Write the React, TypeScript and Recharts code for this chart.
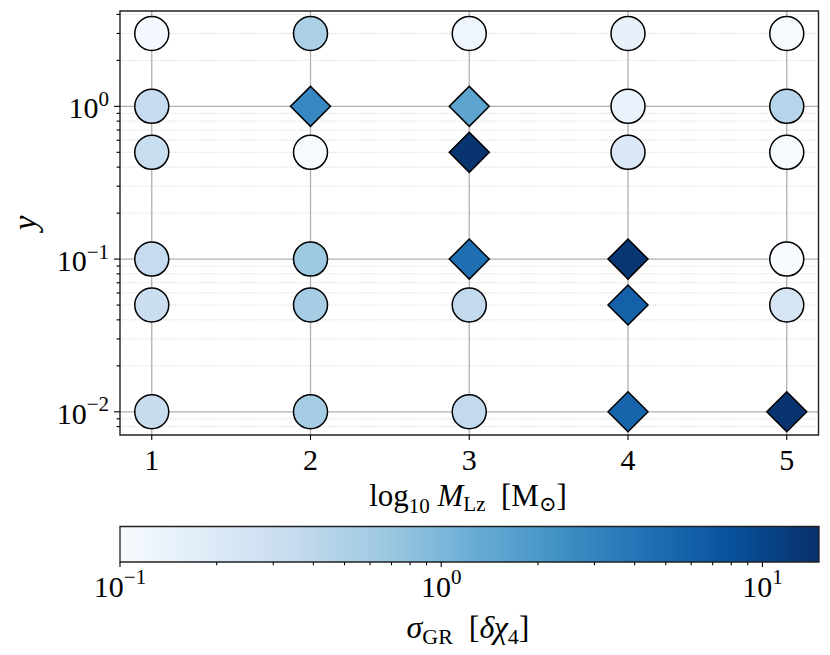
import { CartesianGrid, ReferenceArea, Scatter, ScatterChart, XAxis, YAxis } from "recharts";

// grid of runs: one column per log10 mass, one row per y level
const massTicks = [1, 2, 3, 4, 5];
const yLevels = [3, 1, 0.5, 0.1, 0.05, 0.01];

// sigma_GR, same order as yLevels
const sigmaAtM1 = [0.11, 0.35, 0.33, 0.35, 0.31, 0.34];
const sigmaAtM2 = [0.53, 2.8, 0.105, 0.65, 0.58, 0.6];
const sigmaAtM3 = [0.125, 1.52, 14, 4.5, 0.37, 0.37];
const sigmaAtM4 = [0.146, 0.14, 0.21, 13.5, 5.9, 5.5];
const sigmaAtM5 = [0.105, 0.44, 0.105, 0.1, 0.235, 14];

// marker kind: "o" circle, "D" diamond
const markerAtM1 = ["o", "o", "o", "o", "o", "o"];
const markerAtM2 = ["o", "D", "o", "o", "o", "o"];
const markerAtM3 = ["o", "D", "D", "D", "o", "o"];
const markerAtM4 = ["o", "o", "o", "D", "D", "D"];
const markerAtM5 = ["o", "o", "o", "o", "o", "D"];

const yMajorTicks = [0.01, 0.1, 1];
const yMinorTicks = [0.008, 0.009, 0.02, 0.03, 0.04, 0.05, 0.06, 0.07, 0.08, 0.09, 0.2, 0.3, 0.4, 0.5, 0.6, 0.7, 0.8, 0.9, 2, 3, 4];
const cbMajorTicks = [0.1, 1, 10];
const cbMinorTicks = [0.2, 0.3, 0.4, 0.5, 0.6, 0.7, 0.8, 0.9, 2, 3, 4, 5, 6, 7, 8, 9];

const xDomain: [number, number] = [0.8, 5.2];
const yDomain: [number, number] = [0.00705, 4.21];
const cbMin = 0.1;
const cbMax = 15;

const sigmaColumns = [sigmaAtM1, sigmaAtM2, sigmaAtM3, sigmaAtM4, sigmaAtM5];
const markerColumns = [markerAtM1, markerAtM2, markerAtM3, markerAtM4, markerAtM5];

const points = massTicks.flatMap((m, i) =>
  yLevels.map((y, j) => ({ x: m, y, sigma: sigmaColumns[i][j], marker: markerColumns[i][j] }))
);

// the two ends of the colour bar, so its axes have something to scale
const colorbarEnds = [
  { x: cbMin, y: 0 },
  { x: cbMax, y: 1 }
];

const font = "'Liberation Serif', 'DejaVu Serif', serif";
const bluesStops = ["#f7fbff", "#deebf7", "#c6dbef", "#9ecae1", "#6baed6", "#4292c6", "#2171b5", "#08519c", "#08306b"];

function hexToRgb(h: string) {
  return [1, 3, 5].map((k) => parseInt(h.slice(k, k + 2), 16));
}

function bluesColor(v: number) {
  const lo = Math.log10(cbMin);
  const hi = Math.log10(cbMax);
  const t = Math.max(0, Math.min(1, (Math.log10(v) - lo) / (hi - lo)));
  const p = t * (bluesStops.length - 1);
  const i = Math.min(bluesStops.length - 2, Math.floor(p));
  const f = p - i;
  const a = hexToRgb(bluesStops[i]);
  const b = hexToRgb(bluesStops[i + 1]);
  const c = a.map((ai, k) => Math.round(ai + (b[k] - ai) * f));
  return `rgb(${c[0]},${c[1]},${c[2]})`;
}

function MarkerShape(props: any) {
  const { cx, cy, payload } = props;
  const fill = bluesColor(payload.sigma);
  if (payload.marker === "D") {
    const r = 20;
    return (
      <path
        d={`M${cx},${cy - r}L${cx + r},${cy}L${cx},${cy + r}L${cx - r},${cy}Z`}
        fill={fill}
        stroke="#000"
        strokeWidth={1.5}
      />
    );
  }
  return <circle cx={cx} cy={cy} r={17} fill={fill} stroke="#000" strokeWidth={1.5} />;
}

function NoMark() {
  return <g />;
}

function PowerLabel({ x, y, exp, anchor }: { x: number; y: number; exp: number; anchor: "start" | "middle" | "end" }) {
  return (
    <text x={x} y={y} textAnchor={anchor} fontFamily={font} fontSize={30} fill="#000">
      <tspan>10</tspan>
      <tspan dy={-12.5} fontSize={21}>
        {exp < 0 ? `\u2212${-exp}` : `${exp}`}
      </tspan>
    </text>
  );
}

function YTick(props: any) {
  const { x, y, payload } = props;
  const v = payload.value;
  const major = yMajorTicks.includes(v);
  return (
    <g>
      <line x1={x - (major ? 6 : 3.5)} x2={x} y1={y} y2={y} stroke="#000" strokeWidth={1.1} />
      {major && <PowerLabel x={x - 11} y={y + 12} exp={Math.round(Math.log10(v))} anchor="end" />}
    </g>
  );
}

function XTick(props: any) {
  const { x, y, payload } = props;
  return (
    <g>
      <line x1={x} x2={x} y1={y} y2={y + 5} stroke="#000" strokeWidth={1.1} />
      <text x={x} y={y + 35} textAnchor="middle" fontFamily={font} fontSize={30} fill="#000">
        {payload.value}
      </text>
    </g>
  );
}

function ColorbarTick(props: any) {
  const { x, y, payload } = props;
  const v = payload.value;
  const major = cbMajorTicks.includes(v);
  return (
    <g>
      <line x1={x} x2={x} y1={y} y2={y + (major ? 5 : 3.3)} stroke="#000" strokeWidth={1.1} />
      {major && <PowerLabel x={x} y={y + 34.5} exp={Math.round(Math.log10(v))} anchor="middle" />}
    </g>
  );
}

export default function App() {
  return (
    <div style={{ position: "absolute", left: 0, top: 0, width: 830, height: 655, background: "#fff" }}>
      <div style={{ position: "absolute", left: 0, top: 0 }}>
        <ScatterChart width={830} height={655} margin={{ top: 11, right: 11.5, bottom: 160, left: 0 }}>
          <CartesianGrid
            horizontal
            vertical={false}
            horizontalValues={yMinorTicks}
            stroke="#c8c8c8"
            strokeWidth={0.8}
            strokeDasharray="1 1.5"
          />
          <CartesianGrid
            horizontalValues={yMajorTicks}
            verticalValues={massTicks}
            stroke="#b0b0b0"
            strokeWidth={1.3}
          />
          <XAxis
            type="number"
            dataKey="x"
            domain={xDomain}
            ticks={massTicks}
            interval={0}
            allowDataOverflow
            height={60}
            axisLine={false}
            tickLine={false}
            tickSize={0}
            tickMargin={0}
            tick={<XTick />}
          />
          <YAxis
            type="number"
            dataKey="y"
            scale="log"
            domain={yDomain}
            ticks={[...yMajorTicks, ...yMinorTicks]}
            interval={0}
            allowDataOverflow
            width={120}
            axisLine={false}
            tickLine={false}
            tickSize={0}
            tickMargin={0}
            tick={<YTick />}
          />
          <Scatter data={points} shape={MarkerShape} isAnimationActive={false} />
          <ReferenceArea
            x1={xDomain[0]}
            x2={xDomain[1]}
            y1={yDomain[0]}
            y2={yDomain[1]}
            ifOverflow="visible"
            fill="none"
            fillOpacity={0}
            stroke="#222"
            strokeWidth={1.4}
          />
        </ScatterChart>
      </div>
      <div style={{ position: "absolute", left: 0, top: 0 }}>
        <ScatterChart width={830} height={655} margin={{ top: 526.5, right: 11, bottom: 63, left: 120 }}>
          <defs>
            <linearGradient id="bluesBar" x1="0" x2="1" y1="0" y2="0">
              {bluesStops.map((c, i) => (
                <stop key={c} offset={`${(i / (bluesStops.length - 1)) * 100}%`} stopColor={c} />
              ))}
            </linearGradient>
          </defs>
          <XAxis
            type="number"
            dataKey="x"
            scale="log"
            domain={[cbMin, cbMax]}
            ticks={[...cbMajorTicks, ...cbMinorTicks]}
            interval={0}
            allowDataOverflow
            height={30}
            axisLine={false}
            tickLine={false}
            tickSize={0}
            tickMargin={0}
            tick={<ColorbarTick />}
          />
          <YAxis type="number" dataKey="y" domain={[0, 1]} allowDataOverflow width={0} hide />
          <Scatter data={colorbarEnds} shape={NoMark} isAnimationActive={false} />
          <ReferenceArea
            x1={cbMin}
            x2={cbMax}
            y1={0}
            y2={1}
            ifOverflow="visible"
            fill="url(#bluesBar)"
            fillOpacity={1}
            stroke="#222"
            strokeWidth={1.3}
          />
        </ScatterChart>
      </div>
      <svg
        width={830}
        height={655}
        style={{ position: "absolute", left: 0, top: 0, pointerEvents: "none" }}
        fontFamily={font}
        fill="#000"
      >
        <text transform="translate(36 223) rotate(-90)" textAnchor="middle" fontSize={33} fontStyle="italic">
          y
        </text>
        <text x={468} y={506} textAnchor="middle" fontSize={31}>
          <tspan>log</tspan>
          <tspan fontSize={21} dy={7}>10</tspan>
          <tspan dy={-7}>{"\u00a0"}</tspan>
          <tspan fontStyle="italic">M</tspan>
          <tspan fontSize={21} dy={5}>Lz</tspan>
          <tspan dy={-5}>{"\u00a0\u00a0[M"}</tspan>
          <tspan fontSize={21} dy={5}>{"\u2299"}</tspan>
          <tspan dy={-5}>]</tspan>
        </text>
        <text x={468} y={638} textAnchor="middle" fontSize={32}>
          <tspan fontStyle="italic">{"\u03c3"}</tspan>
          <tspan fontSize={22} dy={6}>GR</tspan>
          <tspan dy={-6}>{"\u00a0\u00a0["}</tspan>
          <tspan fontStyle="italic">{"\u03b4\u03c7"}</tspan>
          <tspan fontSize={22} dy={6}>4</tspan>
          <tspan dy={-6}>]</tspan>
        </text>
      </svg>
    </div>
  );
}
